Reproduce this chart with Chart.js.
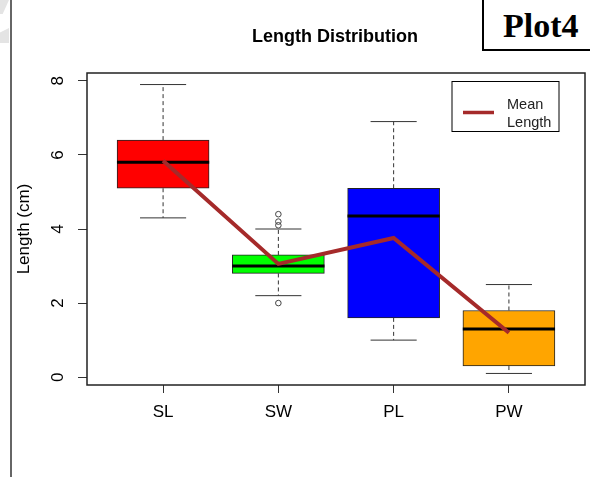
<html>

<head>
    <script src="https://cdn.jsdelivr.net/npm/chart.js"></script>
    <style>
        body { margin: 0; background: #fff; }
        #wrap { position: relative; width: 590px; height: 477px; overflow: hidden; }
        #plot4 {
            position: absolute; left: 482px; top: -3px; width: 120px; height: 54px;
            border: 2px solid #000; box-sizing: border-box; background: #fff;
            font: bold 34px "Liberation Serif", serif; line-height: 54px; padding-left: 19px;
        }
        #leftline { position: absolute; left: 10px; top: 0; width: 2px; height: 477px; background: #666; }
        .shade { position: absolute; left: 0; width: 9px; background: #e4e4e4; }
    </style>
</head>

<body>
    <div id="wrap">
        <canvas id="box" width="590" height="477"></canvas>
        <div class="shade" style="top:0;height:14px;clip-path:polygon(0 0,100% 0,30% 100%,0 100%)"></div>
        <div class="shade" style="top:28px;height:15px;clip-path:polygon(0 30%,100% 0,100% 100%,0 100%)"></div>
        <div id="leftline"></div>
        <div id="plot4">Plot4</div>
    </div>

    <script>
        var categories = ['SL', 'SW', 'PL', 'PW'];
        var q1 = [5.1, 2.8, 1.6, 0.3];
        var medians = [5.8, 3.0, 4.35, 1.3];
        var q3 = [6.4, 3.3, 5.1, 1.8];
        var whiskerLow = [4.3, 2.2, 1.0, 0.1];
        var whiskerHigh = [7.9, 4.0, 6.9, 2.5];
        var means = [5.843, 3.057, 3.758, 1.199];
        var outlierCat = [1, 1, 1, 1];
        var outlierVal = [4.4, 4.1, 4.2, 2.0];
        var boxColors = ['#FF0000', '#00FF00', '#0000FF', '#FFA500'];
        var yTicks = [0, 2, 4, 6, 8];

        var boxWidth = 0.8;
        var font = '"Liberation Sans", Arial, sans-serif';

        // whiskers + medians, drawn right after the boxes so the mean line stays on top
        var boxParts = {
            id: 'boxParts',
            afterDatasetDraw: function(chart, args) {
                if (args.index !== 0) return;
                var ctx = chart.ctx, x = chart.scales.x, y = chart.scales.y;
                var half = (x.getPixelForValue(boxWidth) - x.getPixelForValue(0)) / 2;
                ctx.save();
                for (var i = 0; i < categories.length; i++) {
                    var cx = x.getPixelForValue(i);
                    ctx.strokeStyle = '#333';
                    ctx.lineWidth = 1;
                    ctx.setLineDash([4, 3]);
                    ctx.beginPath();
                    ctx.moveTo(cx, y.getPixelForValue(q3[i]));
                    ctx.lineTo(cx, y.getPixelForValue(whiskerHigh[i]));
                    ctx.moveTo(cx, y.getPixelForValue(q1[i]));
                    ctx.lineTo(cx, y.getPixelForValue(whiskerLow[i]));
                    ctx.stroke();
                    ctx.setLineDash([]);
                    ctx.beginPath();
                    ctx.moveTo(cx - half / 2, y.getPixelForValue(whiskerHigh[i]));
                    ctx.lineTo(cx + half / 2, y.getPixelForValue(whiskerHigh[i]));
                    ctx.moveTo(cx - half / 2, y.getPixelForValue(whiskerLow[i]));
                    ctx.lineTo(cx + half / 2, y.getPixelForValue(whiskerLow[i]));
                    ctx.stroke();
                    ctx.strokeStyle = '#000';
                    ctx.lineWidth = 3;
                    ctx.beginPath();
                    ctx.moveTo(cx - half, y.getPixelForValue(medians[i]));
                    ctx.lineTo(cx + half, y.getPixelForValue(medians[i]));
                    ctx.stroke();
                }
                ctx.restore();
            },
            afterDraw: function(chart) {
                var ctx = chart.ctx, a = chart.chartArea, y = chart.scales.y;
                ctx.save();
                // frame
                ctx.strokeStyle = '#222';
                ctx.lineWidth = 1.5;
                ctx.strokeRect(a.left, a.top, a.right - a.left, a.bottom - a.top);
                // rotated y labels
                ctx.fillStyle = '#000';
                ctx.font = '17px ' + font;
                ctx.textAlign = 'center';
                ctx.textBaseline = 'middle';
                yTicks.forEach(function(v) {
                    ctx.save();
                    ctx.translate(58, y.getPixelForValue(v));
                    ctx.rotate(-Math.PI / 2);
                    ctx.fillText(String(v), 0, 0);
                    ctx.restore();
                });
                ctx.save();
                ctx.translate(24, (a.top + a.bottom) / 2);
                ctx.rotate(-Math.PI / 2);
                ctx.fillText('Length (cm)', 0, 0);
                ctx.restore();
                // title
                ctx.font = 'bold 18px ' + font;
                ctx.fillText('Length Distribution', 335, 37);
                // legend
                ctx.strokeStyle = '#000';
                ctx.lineWidth = 1;
                ctx.strokeRect(452, 81.5, 107, 50);
                ctx.strokeStyle = '#A52A2A';
                ctx.lineWidth = 3.5;
                ctx.beginPath();
                ctx.moveTo(463, 112.5);
                ctx.lineTo(494, 112.5);
                ctx.stroke();
                ctx.fillStyle = '#222';
                ctx.font = '14.5px ' + font;
                ctx.textAlign = 'left';
                ctx.fillText('Mean', 507, 105);
                ctx.fillText('Length', 507, 123);
                ctx.restore();
            }
        };

        var ctx = document.getElementById('box').getContext('2d');
        var chart = new Chart(ctx, {
            type: 'bar',
            data: {
                datasets: [{
                    type: 'bar',
                    data: categories.map(function(c, i) { return { x: i, y: [q1[i], q3[i]] }; }),
                    backgroundColor: boxColors,
                    borderColor: '#222',
                    borderWidth: 1,
                    borderSkipped: false,
                    barThickness: 92,
                    order: 3
                }, {
                    type: 'line',
                    data: outlierVal.map(function(v, i) { return { x: outlierCat[i], y: v }; }),
                    showLine: false,
                    pointStyle: 'circle',
                    pointRadius: 2.8,
                    pointBorderWidth: 1,
                    pointBorderColor: '#444',
                    pointBackgroundColor: 'rgba(0,0,0,0)',
                    order: 2
                }, {
                    type: 'line',
                    data: means.map(function(v, i) { return { x: i, y: v }; }),
                    borderColor: '#A52A2A',
                    borderWidth: 4,
                    pointRadius: 0,
                    tension: 0,
                    order: 1
                }]
            },
            options: {
                responsive: false,
                animation: false,
                devicePixelRatio: 1,
                layout: { padding: { left: 0, right: 5, top: 73, bottom: 0 } },
                plugins: { legend: { display: false }, tooltip: { enabled: false } },
                scales: {
                    x: {
                        type: 'linear',
                        offset: false,
                        min: -0.66,
                        max: 3.66,
                        afterBuildTicks: function(s) { s.ticks = categories.map(function(c, i) { return { value: i }; }); },
                        afterFit: function(s) { s.height = 92; },
                        ticks: {
                            callback: function(v) { return categories[v]; },
                            color: '#000',
                            font: { family: font, size: 17 },
                            padding: 9,
                            maxRotation: 0
                        },
                        grid: { offset: false, drawOnChartArea: false, tickLength: 8, color: '#333' },
                        border: { display: false }
                    },
                    y: {
                        min: -0.212,
                        max: 8.212,
                        afterBuildTicks: function(s) { s.ticks = yTicks.map(function(v) { return { value: v }; }); },
                        afterFit: function(s) { s.width = 87; },
                        ticks: { display: false },
                        grid: { drawOnChartArea: false, tickLength: 9, color: '#333' },
                        border: { display: false }
                    }
                }
            },
            plugins: [boxParts]
        });
    </script>

</body>

</html>
